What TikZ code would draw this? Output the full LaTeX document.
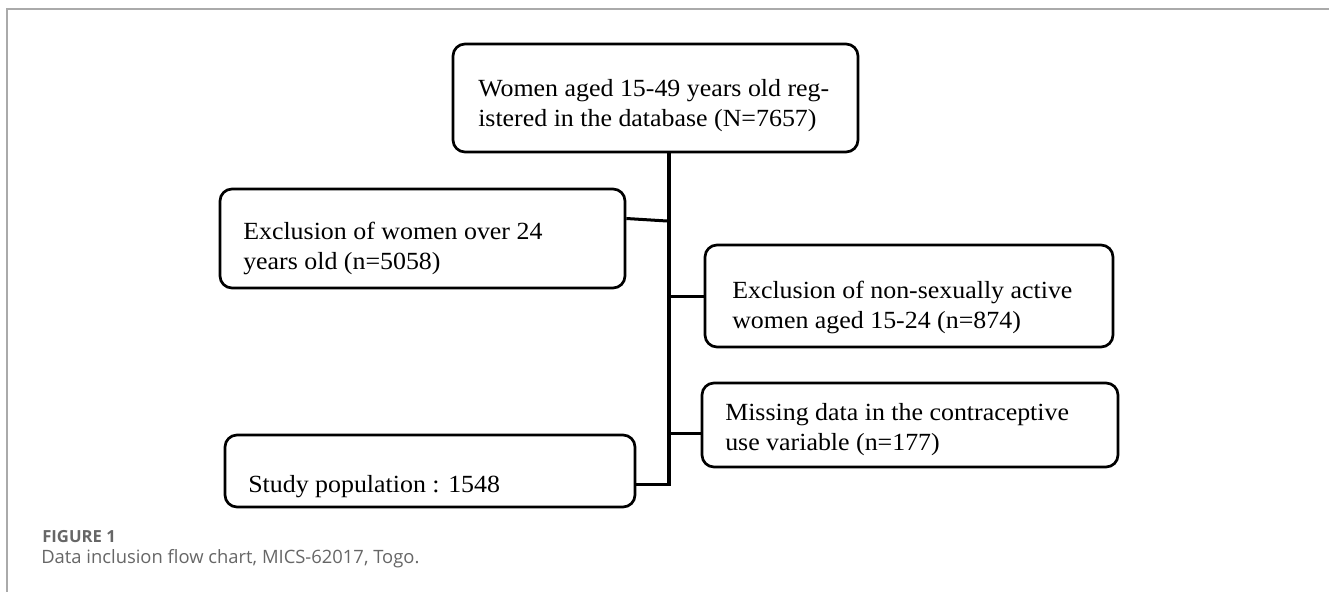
\documentclass[tikz,border=0pt]{standalone}
\usepackage{fontspec}
\setmainfont{Liberation Serif}
\newfontfamily\boxfont[FakeStretch=1.05]{Liberation Serif}
\newfontfamily\capfont{Open Sans}
\usetikzlibrary{calc}
\definecolor{framegray}{HTML}{AAAAAA}
\definecolor{capgray}{HTML}{666666}
\tikzset{
  flowbox/.style={draw=black, line width=2pt, rounded corners=9pt, inner sep=0pt},
  boxtext/.style={font=\boxfont\fontsize{18.5}{22.5}\selectfont, align=left, anchor=west, inner sep=0pt},
  trunk/.style={line width=3pt, line cap=rect},
  link/.style={line width=2.25pt},
  framerule/.style={draw=framegray, line width=1.5pt},
}
\begin{document}
\begin{tikzpicture}[x=0.75pt, y=-0.75pt]
\useasboundingbox (0,0) rectangle (1329,592);
% frame
\coordinate (fa) at (7,592);
\coordinate (fb) at (7,9);
\coordinate (fc) at (1329,9);
\draw[framerule] (fa) -- (fb) -- (fc);
% boxes
\node[flowbox, minimum width=303.75pt, minimum height=81pt] (top) at (655.5,98) {};
\node[flowbox, minimum width=303.75pt, minimum height=74.25pt] (left1) at (422.5,238.5) {};
\node[flowbox, minimum width=306pt, minimum height=76.5pt] (right1) at (909,296) {};
\node[flowbox, minimum width=312pt, minimum height=63pt] (right2) at (910,425) {};
\node[flowbox, minimum width=307.5pt, minimum height=54pt] (bottom) at (430,471) {};
% texts
\node[boxtext] (topt) at (478,106) {Women aged 15-49 years old reg-\\istered in the database (N=7657)};
\node[boxtext] (left1t) at (243,248) {Exclusion of women over 24\\years old (n=5058)};
\node[boxtext] (right1t) at (732,307) {Exclusion of non-sexually active\\women aged 15-24 (n=874)};
\node[boxtext] (right2t) at (725,430) {Missing data in the contraceptive\\use variable (n=177)};
\node[boxtext] (bottomt) at (248,487) {Study population : 1548};
% connectors
\coordinate (trunkbot) at (669,484);
\coordinate (leftjoin) at (667,221);
\coordinate (r2in) at ([yshift=-6pt]right2.west);
\draw[trunk] (top.south -| trunkbot) -- (trunkbot);
\draw[link] ([yshift=15pt]left1.east) -- (leftjoin);
\draw[link] (trunkbot |- right1.west) -- (right1.west);
\draw[link] (trunkbot |- r2in) -- (r2in);
\draw[link] ([yshift=-9.75pt]bottom.east) -- (trunkbot);
% caption
\node[anchor=west, inner sep=0pt, text=capgray, font=\capfont\bfseries\fontsize{12.5}{14}\selectfont] (figlabel) at (42,537) {FIGURE 1};
\node[anchor=west, inner sep=0pt, text=capgray, font=\capfont\fontsize{13.8}{17}\selectfont] (figcap) at (41,559) {Data inclusion flow chart, MICS-62017, Togo.};
\end{tikzpicture}
\end{document}
